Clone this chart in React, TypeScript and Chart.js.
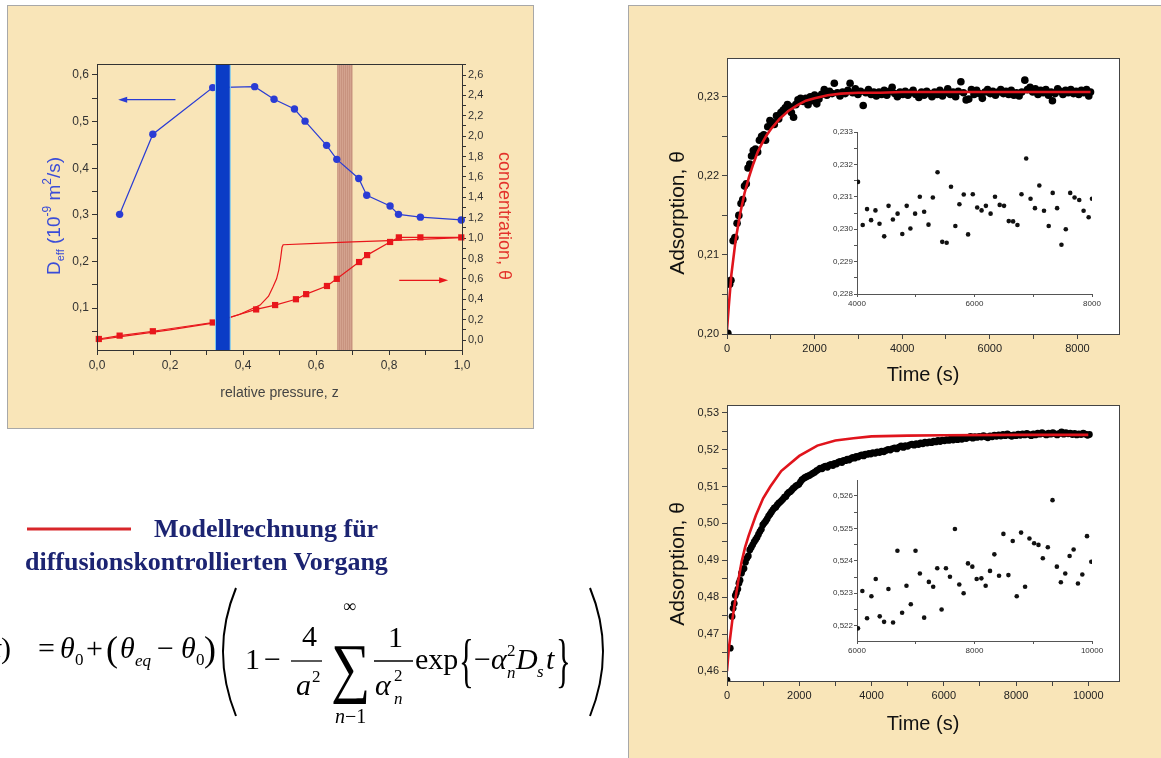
import React, { useEffect, useRef } from 'react';
import { Chart, registerables } from 'chart.js';

Chart.register(...registerables);

const SANS = "'Liberation Sans', Arial, Helvetica, sans-serif";
const SERIF = "'Liberation Serif', 'Times New Roman', serif";

// ---------- Left chart (diffusion coefficient / concentration vs relative pressure) ----------
const pressureZ = [0.062, 0.153, 0.317, 0.432, 0.485, 0.541, 0.570, 0.629, 0.657, 0.717, 0.739, 0.803, 0.826, 0.886, 0.998];
const diffEff = [0.301, 0.473, 0.573, 0.575, 0.548, 0.527, 0.501, 0.449, 0.419, 0.378, 0.342, 0.319, 0.301, 0.295, 0.289];
const concZ = [0.005, 0.062, 0.153, 0.317, 0.436, 0.488, 0.545, 0.573, 0.630, 0.657, 0.718, 0.740, 0.803, 0.827, 0.886, 0.998];
const concTheta = [0.01, 0.043, 0.086, 0.172, 0.30, 0.343, 0.40, 0.45, 0.53, 0.60, 0.765, 0.833, 0.962, 1.007, 1.007, 1.007];
const modelZ = [0.0, 0.1, 0.2, 0.317, 0.39, 0.447, 0.47, 0.482, 0.492, 0.498, 0.503, 0.507, 0.51, 0.6, 0.7, 0.8, 0.9, 1.0];
const modelTheta = [0.0, 0.05, 0.1, 0.165, 0.25, 0.343, 0.43, 0.52, 0.6, 0.686, 0.8, 0.91, 0.935, 0.948, 0.962, 0.975, 0.99, 1.005];
const blueBand = [0.326, 0.364];
const brownBand = [0.658, 0.700];
const leftArrow = { from: 0.215, to: 0.058, y: 0.547 };
const rightArrow = { from: 0.828, to: 0.962, y: 0.586 };

// ---------- time-axis ticks of the two adsorption charts ----------
const time1Ticks = [0, 1000, 2000, 3000, 4000, 5000, 6000, 7000, 8000];
const time2Ticks = [0, 1000, 2000, 3000, 4000, 5000, 6000, 7000, 8000, 9000, 10000];

// ---------- Top right: adsorption vs time ----------
const t1Time = [20,60,90,140,180,230,270,320,360,400,440,480,520,560,600,650,700,740,790,840,880,930,980,1030,1080,1130,1180,1230,1280,1330,1380,1420,1470,1520,1570,1620,1680,1740,1800,1850,1900,1950,2000,2050,2100,2160,2220,2280,2340,2400,2450,2520,2580,2640,2700,2760,2810,2870,2930,2990,3050,3110,3170,3230,3290,3350,3410,3470,3530,3590,3650,3710,3770,3830,3890,3950,4010,4070,4130,4190,4250,4310,4380,4440,4500,4560,4620,4680,4740,4800,4860,4920,4980,5040,5100,5160,5220,5280,5340,5400,5460,5520,5580,5640,5700,5760,5830,5890,5950,6010,6070,6130,6190,6250,6310,6370,6430,6490,6550,6610,6670,6730,6800,6860,6920,6980,7040,7100,7160,7220,7280,7340,7400,7430,7490,7550,7610,7670,7730,7790,7850,7910,7970,8030,8090,8150,8210,8260,8300];
const t1Ads = [0.2001,0.2063,0.2068,0.2118,0.2122,0.2140,0.2150,0.2165,0.2170,0.2187,0.2190,0.2210,0.2215,0.2225,0.2232,0.2234,0.2230,0.2245,0.2250,0.2252,0.2245,0.2262,0.2270,0.2268,0.2265,0.2276,0.2272,0.2280,0.2283,0.2286,0.2290,0.2288,0.2280,0.2274,0.2290,0.2296,0.2298,0.2294,0.2298,0.2290,0.2300,0.2295,0.2302,0.2291,0.2297,0.2303,0.2309,0.2302,0.2307,0.2304,0.2317,0.2305,0.2301,0.2306,0.2304,0.2308,0.2317,0.2305,0.2310,0.2303,0.2307,0.2289,0.2305,0.2309,0.2303,0.2306,0.2301,0.2306,0.2303,0.2308,0.2302,0.2307,0.2312,0.2304,0.2300,0.2306,0.2303,0.2307,0.2302,0.2305,0.2308,0.2303,0.2299,0.2306,0.2302,0.2307,0.2304,0.2300,0.2306,0.2303,0.2308,0.2301,0.2305,0.2310,0.2303,0.2306,0.2300,0.2307,0.2319,0.2305,0.2296,0.2297,0.2309,0.2303,0.2308,0.2304,0.2298,0.2306,0.2309,0.2304,0.2307,0.2302,0.2306,0.2309,0.2304,0.2307,0.2303,0.2308,0.2302,0.2305,0.2301,0.2306,0.2321,0.2309,0.2312,0.2306,0.2310,0.2303,0.2308,0.2305,0.2309,0.2302,0.2306,0.2295,0.2304,0.2310,0.2307,0.2303,0.2308,0.2305,0.2309,0.2304,0.2307,0.2303,0.2308,0.2305,0.2309,0.2301,0.2306];
const fit1Time = [0, 40, 100, 200, 300, 400, 500, 600, 700, 800, 900, 1000, 1200, 1400, 1600, 1800, 2000, 2300, 2600, 3000, 3500, 4000, 5000, 6000, 7000, 8300];
const fit1Ads = [0.2005, 0.2035, 0.2075, 0.2120, 0.2152, 0.2178, 0.2198, 0.2215, 0.2230, 0.2241, 0.2251, 0.2259, 0.2272, 0.2282, 0.2289, 0.2295, 0.2298, 0.2302, 0.2304, 0.2305, 0.2305, 0.2306, 0.2306, 0.2306, 0.2306, 0.2306];
const inset1Time = [4017,4097,4171,4240,4314,4383,4463,4537,4611,4691,4771,4846,4909,4989,5069,5143,5217,5291,5371,5451,5526,5600,5674,5743,5817,5891,5971,6046,6120,6194,6274,6349,6429,6503,6583,6657,6731,6800,6880,6954,7029,7103,7183,7263,7331,7406,7480,7554,7629,7703,7783,7857,7943,8000];
const inset1Ads = [0.23146,0.23013,0.23062,0.23028,0.23058,0.23017,0.22978,0.23072,0.2303,0.23048,0.22985,0.23072,0.23002,0.23048,0.231,0.23054,0.23014,0.23098,0.23176,0.22961,0.22958,0.23131,0.2301,0.23077,0.23107,0.22984,0.23108,0.23067,0.23058,0.23072,0.23048,0.231,0.23075,0.23072,0.23025,0.23024,0.23013,0.23108,0.23218,0.23094,0.23065,0.23135,0.23057,0.2301,0.23112,0.23065,0.22952,0.23,0.23112,0.23098,0.2309,0.23057,0.23037,0.23094];

// ---------- Bottom right: adsorption vs time ----------
const t2Time = [0,90,140,170,200,230,260,300,330,360,400,430,470,510,550,590,630,670,710,750,790,830,870,910,950,990,1030,1070,1110,1150,1190,1230,1270,1310,1350,1390,1430,1470,1510,1550,1590,1630,1670,1710,1750,1790,1830,1870,1910,1950,1990,2030,2070,2110,2150,2190,2230,2280,2330,2380,2430,2480,2530,2580,2630,2680,2730,2780,2830,2880,2930,2980,3030,3080,3130,3180,3230,3280,3330,3380,3430,3480,3530,3580,3630,3680,3730,3780,3830,3880,3930,3980,4040,4100,4160,4220,4280,4340,4400,4460,4520,4580,4640,4700,4760,4820,4880,4940,5000,5060,5120,5180,5240,5300,5360,5420,5480,5540,5600,5660,5720,5780,5840,5900,5960,6020,6080,6140,6200,6260,6320,6380,6440,6500,6560,6620,6680,6740,6800,6860,6920,6980,7040,7100,7160,7220,7280,7340,7400,7460,7520,7580,7640,7700,7760,7820,7880,7940,8000,8060,8120,8180,8240,8300,8360,8420,8480,8540,8600,8660,8720,8780,8840,8900,8960,9020,9080,9140,9200,9260,9320,9380,9440,9500,9560,9620,9680,9740,9800,9860,9920,9980,10030];
const t2Ads = [0.4575,0.4662,0.4748,0.4770,0.4783,0.4805,0.4812,0.4822,0.4838,0.4846,0.4865,0.4874,0.4878,0.4895,0.4906,0.4912,0.4928,0.4935,0.4942,0.4950,0.4956,0.4962,0.4970,0.4978,0.4984,0.4996,0.5001,0.5006,0.5012,0.5020,0.5025,0.5031,0.5037,0.5042,0.5044,0.5050,0.5055,0.5058,0.5062,0.5066,0.5071,0.5073,0.5080,0.5084,0.5086,0.5090,0.5095,0.5098,0.5102,0.5104,0.5106,0.5112,0.5118,0.5121,0.5124,0.5126,0.5128,0.5130,0.5133,0.5136,0.5139,0.5143,0.5146,0.5150,0.5148,0.5153,0.5155,0.5152,0.5158,0.5160,0.5157,0.5163,0.5161,0.5166,0.5168,0.5165,0.5171,0.5170,0.5174,0.5172,0.5176,0.5179,0.5177,0.5182,0.5180,0.5184,0.5186,0.5183,0.5188,0.5187,0.5190,0.5188,0.5192,0.5190,0.5194,0.5192,0.5196,0.5194,0.5198,0.5201,0.5199,0.5203,0.5205,0.5202,0.5207,0.5210,0.5206,0.5211,0.5209,0.5213,0.5215,0.5212,0.5216,0.5214,0.5218,0.5216,0.5220,0.5218,0.5221,0.5219,0.5223,0.5221,0.5225,0.5222,0.5226,0.5224,0.5227,0.5225,0.5229,0.5226,0.5230,0.5227,0.5231,0.5228,0.5232,0.5230,0.5233,0.5236,0.5231,0.5235,0.5233,0.5236,0.5234,0.5238,0.5235,0.5232,0.5237,0.5235,0.5239,0.5236,0.5240,0.5237,0.5241,0.5238,0.5243,0.5239,0.5236,0.5240,0.5238,0.5242,0.5239,0.5243,0.5240,0.5244,0.5241,0.5238,0.5243,0.5240,0.5245,0.5242,0.5246,0.5243,0.5240,0.5245,0.5242,0.5246,0.5243,0.5240,0.5244,0.5248,0.5242,0.5246,0.5243,0.5245,0.5241,0.5244,0.5240,0.5243,0.5241,0.5245,0.5242,0.5239,0.5241];
const fit2Time = [0, 50, 100, 150, 200, 300, 400, 500, 600, 800, 1000, 1200, 1500, 2000, 2500, 3000, 3500, 4000, 5000, 6000, 8000, 10000];
const fit2Ads = [0.4600, 0.4660, 0.4700, 0.4740, 0.4774, 0.4838, 0.4894, 0.4935, 0.4967, 0.5022, 0.5068, 0.5100, 0.5142, 0.5183, 0.5211, 0.5225, 0.5231, 0.5236, 0.5238, 0.5239, 0.5240, 0.5240];
const inset2Time = [6017,6091,6171,6245,6319,6387,6461,6535,6614,6688,6768,6842,6916,6996,7070,7143,7223,7297,7366,7440,7514,7582,7667,7741,7815,7889,7963,8037,8117,8190,8264,8338,8418,8492,8577,8651,8719,8793,8861,8935,9015,9089,9163,9248,9328,9402,9470,9545,9619,9687,9761,9835,9915,9988];
const inset2Ads = [0.52192,0.52307,0.52223,0.52291,0.52344,0.52229,0.52212,0.52313,0.5221,0.52431,0.5224,0.52323,0.52266,0.52431,0.52361,0.52225,0.52335,0.5232,0.52377,0.5225,0.52377,0.52351,0.52498,0.52327,0.523,0.52392,0.52382,0.52344,0.52346,0.52323,0.52369,0.5242,0.52354,0.52483,0.52356,0.52461,0.52291,0.52487,0.5232,0.52469,0.52454,0.52449,0.52408,0.52442,0.52587,0.52382,0.52334,0.52361,0.52415,0.52435,0.5233,0.52358,0.52476,0.52397];

// ---------- helpers ----------
const fmt = (v: number, d: number) => v.toFixed(d).replace('.', ',');
const isMult = (v: number, step: number) => Math.abs(v / step - Math.round(v / step)) < 1e-6;
const pts = (xs: number[], ys: number[]) => xs.slice(0, Math.min(xs.length, ys.length)).map((x, i) => ({ x, y: ys[i] }));

function drawRotated(ctx: CanvasRenderingContext2D, segs: { t: string; size: number; dy?: number }[], cx: number, cy: number, rot: number, color: string) {
  ctx.save();
  ctx.translate(cx, cy);
  ctx.rotate(rot);
  ctx.fillStyle = color;
  ctx.textBaseline = 'alphabetic';
  ctx.textAlign = 'left';
  const widths = segs.map((s) => { ctx.font = `${s.size}px ${SANS}`; return ctx.measureText(s.t).width; });
  const total = widths.reduce((a, b) => a + b, 0);
  let x = -total / 2;
  const base = segs[0].size * 0.36;
  segs.forEach((s, i) => {
    ctx.font = `${s.size}px ${SANS}`;
    ctx.fillText(s.t, x, base + (s.dy || 0));
    x += widths[i];
  });
  ctx.restore();
}

function arrow(ctx: CanvasRenderingContext2D, x1: number, x2: number, y: number, color: string) {
  const dir = Math.sign(x2 - x1);
  ctx.save();
  ctx.strokeStyle = color;
  ctx.fillStyle = color;
  ctx.lineWidth = 1.3;
  ctx.beginPath();
  ctx.moveTo(x1, y);
  ctx.lineTo(x2 - dir * 6, y);
  ctx.stroke();
  ctx.beginPath();
  ctx.moveTo(x2, y);
  ctx.lineTo(x2 - dir * 9, y - 3);
  ctx.lineTo(x2 - dir * 9, y + 3);
  ctx.closePath();
  ctx.fill();
  ctx.restore();
}

const BLUE = '#2a3cd4';
const RED = '#e8161b';

function leftConfig(): any {
  const decor = {
    id: 'leftDecor',
    beforeDatasetsDraw(chart: any) {
      const { ctx, chartArea: { top, bottom }, scales: { x } } = chart;
      const a = x.getPixelForValue(brownBand[0]);
      const b = x.getPixelForValue(brownBand[1]);
      ctx.save();
      ctx.fillStyle = '#c8937f';
      ctx.fillRect(a, top, b - a, bottom - top);
      ctx.fillStyle = 'rgba(222,176,156,0.55)';
      for (let px = Math.round(a) + 1; px < b - 1; px += 2) ctx.fillRect(px, top, 1, bottom - top);
      ctx.restore();
    },
    afterDatasetsDraw(chart: any) {
      const { ctx, chartArea: { top, bottom, left, right }, scales: { x, y, y2 } } = chart;
      const a = x.getPixelForValue(blueBand[0]);
      const b = x.getPixelForValue(blueBand[1]);
      ctx.save();
      ctx.fillStyle = '#0b3cc6';
      ctx.fillRect(a, top, b - a, bottom - top);
      ctx.fillStyle = '#7cc8ee';
      ctx.fillRect(a - 1, top, 1, bottom - top);
      ctx.fillRect(b, top, 1, bottom - top);
      ctx.restore();
      arrow(ctx, x.getPixelForValue(leftArrow.from), x.getPixelForValue(leftArrow.to), y.getPixelForValue(leftArrow.y), BLUE);
      arrow(ctx, x.getPixelForValue(rightArrow.from), x.getPixelForValue(rightArrow.to), y2.getPixelForValue(rightArrow.y), RED);
      ctx.save();
      ctx.strokeStyle = '#333';
      ctx.lineWidth = 1;
      ctx.strokeRect(Math.round(left) + 0.5, Math.round(top) + 0.5, Math.round(right - left), Math.round(bottom - top));
      ctx.restore();
    },
    afterDraw(chart: any) {
      const { ctx, chartArea: { left, right, top, bottom } } = chart;
      const cy = (top + bottom) / 2 + 9;
      drawRotated(ctx, [
        { t: 'D', size: 19 }, { t: 'eff', size: 11, dy: 4 }, { t: ' (10', size: 19 }, { t: '-9', size: 12, dy: -9 },
        { t: ' m', size: 19 }, { t: '2', size: 12, dy: -9 }, { t: '/s)', size: 19 },
      ], left - 44, cy, -Math.PI / 2, '#3a4cd8');
      drawRotated(ctx, [{ t: 'concentration, θ', size: 18 }], right + 43, cy, Math.PI / 2, '#e3322b');
    },
  };
  const tickFont = { family: SANS, size: 12 };
  return {
    type: 'scatter',
    data: {
      datasets: [
        { data: pts(pressureZ, diffEff), yAxisID: 'y', showLine: true, borderColor: BLUE, backgroundColor: BLUE, borderWidth: 1.2, pointRadius: 3.7, pointBorderWidth: 0, clip: false },
        { data: pts(concZ, concTheta), yAxisID: 'y2', showLine: true, borderColor: RED, backgroundColor: RED, borderWidth: 1.2, pointStyle: 'rect', pointRadius: 4.4, pointBorderWidth: 0, clip: false },
        { data: pts(modelZ, modelTheta), yAxisID: 'y2', showLine: true, borderColor: RED, borderWidth: 1.2, pointRadius: 0 },
      ],
    },
    options: {
      animation: false, responsive: false, devicePixelRatio: 1, events: [],
      layout: { padding: { top: 59, left: 0, right: 0, bottom: 0 } },
      plugins: { legend: { display: false }, tooltip: { enabled: false } },
      scales: {
        x: {
          type: 'linear', min: 0, max: 1,
          ticks: { stepSize: 0.1, autoSkip: false, includeBounds: false, maxRotation: 0, callback: (v: number) => (isMult(v, 0.2) ? fmt(v, 1) : ''), font: tickFont, color: '#333', padding: 3 },
          grid: { drawOnChartArea: false, color: '#333', tickLength: 5 },
          border: { color: '#333' },
          title: { display: true, text: 'relative pressure, z', font: { family: SANS, size: 14 }, color: '#444', padding: { top: 0, bottom: 27 } },
          afterFit: (s: any) => { s.height = 79; },
        },
        y: {
          type: 'linear', position: 'left', min: 0.0099, max: 0.6236,
          ticks: { stepSize: 0.05, autoSkip: false, includeBounds: false, callback: (v: number) => (isMult(v, 0.1) ? fmt(v, 1) : ''), font: tickFont, color: '#333', padding: 3 },
          grid: { drawOnChartArea: false, color: '#333', tickLength: 5 },
          border: { color: '#333' },
          afterFit: (s: any) => { s.width = 90; },
        },
        y2: {
          type: 'linear', position: 'right', min: -0.098, max: 2.708,
          ticks: { stepSize: 0.1, autoSkip: false, includeBounds: false, callback: (v: number) => (isMult(v, 0.2) ? fmt(v, 1) : ''), font: { family: SANS, size: 11 }, color: '#333', padding: 2 },
          grid: { drawOnChartArea: false, color: '#333', tickLength: 4 },
          border: { color: '#333' },
          afterFit: (s: any) => { s.width = 72; },
        },
      },
    },
    plugins: [decor],
  };
}

function adsConfig(p: any): any {
  const decor = {
    id: 'adsDecor',
    beforeDraw(chart: any) {
      const { ctx, chartArea: { left, top, right, bottom } } = chart;
      ctx.save();
      ctx.fillStyle = '#ffffff';
      ctx.fillRect(left, top, right - left, bottom - top);
      ctx.restore();
    },
    afterDraw(chart: any) {
      const { ctx, chartArea: { left, top, right, bottom } } = chart;
      ctx.save();
      ctx.strokeStyle = '#444';
      ctx.lineWidth = 1;
      ctx.strokeRect(Math.round(left) + 0.5, Math.round(top) + 0.5, Math.round(right - left), Math.round(bottom - top));
      ctx.restore();
      drawRotated(ctx, [{ t: 'Adsorption, θ', size: 21 }], left - 51, (top + bottom) / 2 + p.titleDy, -Math.PI / 2, '#111');
    },
  };
  const tickFont = { family: SANS, size: 11 };
  return {
    type: 'scatter',
    data: {
      datasets: [
        { data: pts(p.fitT, p.fitA), showLine: true, borderColor: '#e0141c', borderWidth: 2.6, pointRadius: 0 },
        { data: pts(p.time, p.ads), backgroundColor: '#000', pointRadius: p.dot, pointBorderWidth: 0, borderWidth: 0 },
      ],
    },
    options: {
      animation: false, responsive: false, devicePixelRatio: 1, events: [],
      layout: { padding: { top: p.padTop, right: 42, left: 0, bottom: 0 } },
      plugins: { legend: { display: false }, tooltip: { enabled: false } },
      scales: {
        x: {
          type: 'linear', min: 0, max: p.xMax,
          afterBuildTicks: (s: any) => { s.ticks = p.xTicks.map((v: number) => ({ value: v })); },
          ticks: { autoSkip: false, maxRotation: 0, minRotation: 0, callback: (v: number) => (isMult(v, 2000) ? String(Math.round(v)) : ''), font: tickFont, color: '#222', padding: 3 },
          grid: { drawOnChartArea: false, color: '#444', tickLength: 5 },
          border: { color: '#444' },
          title: { display: true, text: 'Time (s)', font: { family: SANS, size: 20 }, color: '#111', padding: { top: 0, bottom: p.titlePad } },
          afterFit: (s: any) => { s.height = p.xHeight; },
        },
        y: {
          type: 'linear', min: p.yMin, max: p.yMax,
          ticks: { stepSize: 0.005, autoSkip: false, includeBounds: false, callback: (v: number) => (isMult(v, 0.01) ? fmt(v, 2) : ''), font: tickFont, color: '#222', padding: 3 },
          grid: { drawOnChartArea: false, color: '#444', tickLength: 5 },
          border: { color: '#444' },
          afterFit: (s: any) => { s.width = 97; },
        },
      },
    },
    plugins: [decor],
  };
}

function insetConfig(p: any): any {
  const tickFont = { family: SANS, size: 8 };
  return {
    type: 'scatter',
    data: { datasets: [{ data: pts(p.time, p.vals), backgroundColor: '#111', pointRadius: 2.3, pointBorderWidth: 0, borderWidth: 0 }] },
    options: {
      animation: false, responsive: false, devicePixelRatio: 1, events: [],
      layout: { padding: { top: 14, right: 18, left: 0, bottom: 0 } },
      plugins: { legend: { display: false }, tooltip: { enabled: false } },
      scales: {
        x: {
          type: 'linear', min: p.xMin, max: p.xMax,
          ticks: { stepSize: 1000, autoSkip: false, includeBounds: false, maxRotation: 0, callback: (v: number) => (isMult(v, 2000) ? String(v) : ''), font: tickFont, color: '#333', padding: 2 },
          grid: { drawOnChartArea: false, color: '#555', tickLength: 3 },
          border: { color: '#555' },
          afterFit: (s: any) => { s.height = p.xHeight; },
        },
        y: {
          type: 'linear', min: p.yMin, max: p.yMax,
          ticks: { stepSize: 0.0005, autoSkip: false, includeBounds: false, callback: (v: number) => (isMult(v, 0.001) ? fmt(v, 3) : ''), font: tickFont, color: '#333', padding: 1 },
          grid: { drawOnChartArea: false, color: '#555', tickLength: 3 },
          border: { color: '#555' },
          afterFit: (s: any) => { s.width = 37; },
        },
      },
    },
  };
}

const abs = (l: number, t: number, w: number, h: number): React.CSSProperties => ({ position: 'absolute', left: l, top: t, width: w, height: h });

export default function App() {
  const leftRef = useRef<HTMLCanvasElement>(null);
  const top1Ref = useRef<HTMLCanvasElement>(null);
  const inset1Ref = useRef<HTMLCanvasElement>(null);
  const top2Ref = useRef<HTMLCanvasElement>(null);
  const inset2Ref = useRef<HTMLCanvasElement>(null);

  useEffect(() => {
    const charts: Chart[] = [];
    charts.push(new Chart(leftRef.current!, leftConfig()));
    charts.push(new Chart(top1Ref.current!, adsConfig({ time: t1Time, ads: t1Ads, fitT: fit1Time, fitA: fit1Ads, xMax: 8950, xTicks: time1Ticks, yMin: 0.2, yMax: 0.2349, padTop: 51, xHeight: 56, titlePad: 3, titleDy: 17, dot: 3.8 })));
    charts.push(new Chart(top2Ref.current!, adsConfig({ time: t2Time, ads: t2Ads, fitT: fit2Time, fitA: fit2Ads, xMax: 10850, xTicks: time2Ticks, yMin: 0.4573, yMax: 0.5321, padTop: 15, xHeight: 77, titlePad: 22, titleDy: 21, dot: 3.4 })));
    charts.push(new Chart(inset1Ref.current!, insetConfig({ time: inset1Time, vals: inset1Ads, xMin: 4000, xMax: 8000, yMin: 0.228, yMax: 0.233, xHeight: 24 })));
    charts.push(new Chart(inset2Ref.current!, insetConfig({ time: inset2Time, vals: inset2Ads, xMin: 6000, xMax: 10000, yMin: 0.52153, yMax: 0.52649, xHeight: 25 })));
    return () => charts.forEach((c) => c.destroy());
  }, []);

  const F = 30;
  return (
    <div style={{ position: 'fixed', left: 0, top: 0, width: 1161, height: 758, background: '#ffffff', overflow: 'hidden' }}>
      <div style={{ ...abs(7, 5, 527, 424), background: '#F9E5B8', border: '1px solid #a8a8a8', boxSizing: 'border-box' }} />
      <canvas ref={leftRef} width={527} height={424} style={abs(7, 5, 527, 424)} />

      <div style={{ ...abs(628, 5, 540, 760), background: '#F9E5B8', borderLeft: '1px solid #a8a8a8', borderTop: '1px solid #a8a8a8', boxSizing: 'border-box' }} />
      <canvas ref={top1Ref} width={531} height={383} style={abs(630, 7, 531, 383)} />
      <canvas ref={top2Ref} width={531} height={368} style={abs(630, 390, 531, 368)} />
      <canvas ref={inset1Ref} width={290} height={200} style={abs(820, 118, 290, 200)} />
      <canvas ref={inset2Ref} width={290} height={200} style={abs(820, 466, 290, 200)} />

      <svg width={640} height={758} style={{ position: 'absolute', left: 0, top: 0 }} fontFamily={SERIF}>
        <line x1={27} y1={529} x2={131} y2={529} stroke="#d8262a" strokeWidth={3} />
        <text x={154} y={537} fontSize={26} fontWeight="bold" fill="#1c2472">Modellrechnung für</text>
        <text x={25} y={570} fontSize={26} fontWeight="bold" fill="#1c2472">diffusionskontrollierten Vorgang</text>

        <g fill="#000">
          <text x={11} y={658} fontSize={F} textAnchor="end"><tspan fontStyle="italic">θ</tspan>(<tspan fontStyle="italic">t</tspan>)</text>
          <text x={38} y={658} fontSize={F}>=</text>
          <text x={60} y={658} fontSize={F} fontStyle="italic">θ</text>
          <text x={75} y={665} fontSize={17}>0</text>
          <text x={86} y={658} fontSize={F}>+</text>
          <text x={106} y={661} fontSize={36}>(</text>
          <text x={120} y={658} fontSize={F} fontStyle="italic">θ</text>
          <text x={135} y={666} fontSize={17} fontStyle="italic">eq</text>
          <text x={157} y={658} fontSize={F}>−</text>
          <text x={181} y={658} fontSize={F} fontStyle="italic">θ</text>
          <text x={196} y={665} fontSize={17}>0</text>
          <text x={204} y={661} fontSize={36}>)</text>
          <path d="M 236 588 Q 210 651 236 716" fill="none" stroke="#000" strokeWidth={2} />
          <text x={245} y={669} fontSize={F}>1</text>
          <text x={264} y={669} fontSize={F}>−</text>
          <text x={302} y={646} fontSize={F}>4</text>
          <line x1={291} y1={661} x2={322} y2={661} stroke="#000" strokeWidth={1.3} />
          <text x={296} y={695} fontSize={F} fontStyle="italic">a</text>
          <text x={312} y={682} fontSize={17}>2</text>
          <text x={343} y={612} fontSize={18}>∞</text>
          <text transform="translate(331,690) scale(0.95,1.15)" fontSize={58}>∑</text>
          <text x={335} y={723} fontSize={20}><tspan fontStyle="italic">n</tspan>−1</text>
          <text x={388} y={647} fontSize={F}>1</text>
          <line x1={374} y1={661} x2={413} y2={661} stroke="#000" strokeWidth={1.3} />
          <text x={375} y={695} fontSize={F} fontStyle="italic">α</text>
          <text x={394} y={681} fontSize={17}>2</text>
          <text x={394} y={704} fontSize={17} fontStyle="italic">n</text>
          <text x={415} y={669} fontSize={F}>exp</text>
          <text transform="translate(459,680) scale(0.75,1.45)" fontSize={41}>{'{'}</text>
          <text x={474} y={669} fontSize={F}>−</text>
          <text x={491} y={669} fontSize={F} fontStyle="italic">α</text>
          <text x={507} y={656} fontSize={17}>2</text>
          <text x={507} y={678} fontSize={17} fontStyle="italic">n</text>
          <text x={516} y={669} fontSize={F} fontStyle="italic">D</text>
          <text x={537} y={677} fontSize={17} fontStyle="italic">s</text>
          <text x={546} y={669} fontSize={F} fontStyle="italic">t</text>
          <text transform="translate(556,680) scale(0.75,1.45)" fontSize={41}>{'}'}</text>
          <path d="M 590 588 Q 616 651 590 716" fill="none" stroke="#000" strokeWidth={2} />
        </g>
      </svg>
    </div>
  );
}
